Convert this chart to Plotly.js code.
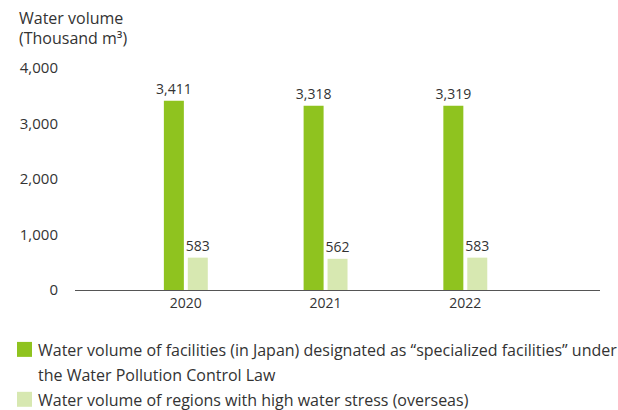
<!DOCTYPE html>
<html>
<head>
<meta charset="utf-8">
<script src="https://cdn.plot.ly/plotly-3.0.1.min.js"></script>
<style>html,body{margin:0;padding:0;background:#fff;}#chart{width:618px;height:410px;}</style>
</head>
<body>
<div id="chart"></div>
<script>
var years = ['2020', '2021', '2022'];
var japanValues = [3411, 3318, 3319];
var overseasValues = [583, 562, 583];
var seriesNames = [
  ['Water volume of facilities (in Japan) designated as \u201cspecialized facilities\u201d under', 'the Water Pollution Control Law'],
  ['Water volume of regions with high water stress (overseas)']
];
var yTicks = [0, 1000, 2000, 3000, 4000];
var yTickLabels = ['0', '1,000', '2,000', '3,000', '4,000'];
var colors = ['#8FC31F', '#D7E8B1'];

var W = 618, H = 410;
var L = 75, R = 18, T = 67.6, B = 120;
var FONT = 'Open Sans, Noto Sans, sans-serif';
var TXT = '#333333';
function px(x) { return (x - L) / (W - L - R); }
function py(y) { return (H - B - y) / (H - T - B); }

var traces = [
  {type: 'bar', x: years, y: japanValues, name: seriesNames[0].join(' '),
   marker: {color: colors[0]}, width: 0.143, offset: -0.157,
   text: japanValues.map(function(v){return v.toLocaleString('en-US');}),
   textposition: 'outside', cliponaxis: false, constraintext: 'none',
   textfont: {family: FONT, size: 14, color: TXT}, showlegend: false, hoverinfo: 'x+y'},
  {type: 'bar', x: years, y: overseasValues, name: seriesNames[1].join(' '),
   marker: {color: colors[1]}, width: 0.143, offset: 0.0143,
   text: overseasValues.map(function(v){return v.toLocaleString('en-US');}),
   textposition: 'outside', cliponaxis: false, constraintext: 'none',
   textfont: {family: FONT, size: 14, color: TXT}, showlegend: false, hoverinfo: 'x+y'}
];

var annotations = [
  {xref: 'paper', yref: 'paper', x: px(17), y: py(18), xanchor: 'left', yanchor: 'middle',
   text: 'Water volume', showarrow: false, font: {family: FONT, size: 16, color: TXT}},
  {xref: 'paper', yref: 'paper', x: px(17), y: py(38), xanchor: 'left', yanchor: 'middle',
   text: '(Thousand m\u00b3)', showarrow: false, font: {family: FONT, size: 16, color: TXT}}
];
var shapes = [];
var legendRows = [[350, 375], [400]];
var squareTops = [342, 392];
for (var i = 0; i < seriesNames.length; i++) {
  shapes.push({type: 'rect', xref: 'paper', yref: 'paper', x0: px(17), x1: px(32),
    y0: py(squareTops[i]), y1: py(squareTops[i] + 15), fillcolor: colors[i], line: {width: 0}});
  for (var j = 0; j < seriesNames[i].length; j++) {
    annotations.push({xref: 'paper', yref: 'paper', x: px(36), y: py(legendRows[i][j]),
      xanchor: 'left', yanchor: 'middle', text: seriesNames[i][j], showarrow: false,
      font: {family: FONT, size: 16, color: TXT}});
  }
}

var layout = {
  width: W, height: H,
  margin: {l: L, r: R, t: T, b: B, pad: 0},
  paper_bgcolor: '#fff', plot_bgcolor: '#fff',
  showlegend: false,
  xaxis: {type: 'category', range: [-0.793, 2.964], showgrid: false, zeroline: false,
    showline: true, linecolor: '#555', linewidth: 1, ticks: '',
    tickfont: {family: FONT, size: 14, color: TXT}, fixedrange: true},
  yaxis: {range: [0, 4000], tickvals: yTicks, ticktext: yTickLabels, showgrid: false,
    zeroline: false, showline: false, ticks: '', ticklabelstandoff: 16,
    tickfont: {family: FONT, size: 15, color: TXT}, fixedrange: true},
  annotations: annotations,
  shapes: shapes
};
Plotly.newPlot('chart', traces, layout, {displayModeBar: false, staticPlot: true});
</script>
</body>
</html>
